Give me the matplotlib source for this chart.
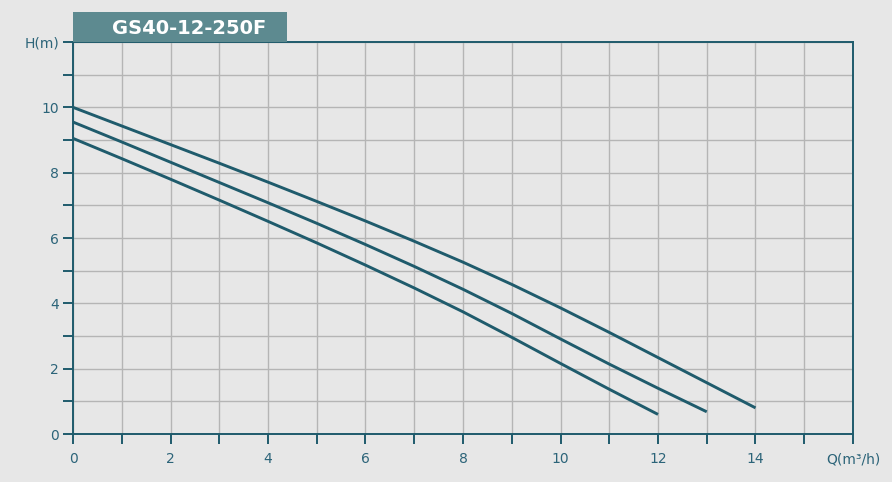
import numpy as np
import matplotlib
matplotlib.use("Agg")
import matplotlib.pyplot as plt
from matplotlib.patches import Rectangle

# --------- data ---------
title = "GS40-12-250F"

q_top = list(range(0, 15))
h_top = [10.0, 9.43, 8.86, 8.29, 7.71, 7.12, 6.52, 5.90, 5.26, 4.58, 3.86, 3.11, 2.34, 1.57, 0.80]

q_mid = list(range(0, 14))
h_mid = [9.55, 8.94, 8.32, 7.70, 7.08, 6.45, 5.80, 5.13, 4.43, 3.69, 2.91, 2.14, 1.40, 0.68]

q_low = list(range(0, 13))
h_low = [9.05, 8.43, 7.80, 7.16, 6.51, 5.85, 5.17, 4.47, 3.74, 2.96, 2.16, 1.37, 0.60]

x_labels = ["0", "", "2", "", "4", "", "6", "", "8", "", "10", "", "12", "", "14", "", "Q(m³/h)"]
y_labels = ["0", "", "2", "", "4", "", "6", "", "8", "", "10", "", "H(m)"]

# --------- style ---------
BG = "#e7e7e7"
TEAL = "#1f5b6c"
LABEL = "#2c6479"
GRID = "#b5b5b5"
BOX = "#5d8a90"

fig = plt.figure(figsize=(8.92, 4.82), dpi=100)
fig.patch.set_facecolor(BG)
ax = fig.add_axes([73/892, 1-434/482, 780/892, 392/482])
ax.set_facecolor(BG)

for q, h in [(q_top, h_top), (q_mid, h_mid), (q_low, h_low)]:
    ax.plot(q, h, color=TEAL, lw=2.1, solid_capstyle="butt", solid_joinstyle="round", zorder=3)

ax.set_xlim(0, 16)
ax.set_ylim(0, 12)
ax.set_xticks(range(17))
ax.set_xticklabels(x_labels)
ax.set_yticks(range(13))
ax.set_yticklabels(y_labels)
ax.grid(True, color=GRID, lw=1.0, zorder=0)
ax.set_axisbelow(True)

for s in ax.spines.values():
    s.set_color(TEAL)
    s.set_linewidth(1.4)
ax.tick_params(axis="both", colors=TEAL, length=7, width=1.4, labelcolor=LABEL, labelsize=10)
ax.tick_params(axis="x", pad=6)
ax.tick_params(axis="y", pad=3)

# --------- title box ---------
fig.patches.append(Rectangle((73/892, 1-42/482), 214/892, 30/482, transform=fig.transFigure,
                             facecolor=BOX, edgecolor="none", zorder=5))
fig.text(189/892, 1-28/482, title, color="white", fontsize=14, fontweight="bold",
         ha="center", va="center", zorder=6)

fig.savefig("out.png", dpi=100, facecolor=BG)
